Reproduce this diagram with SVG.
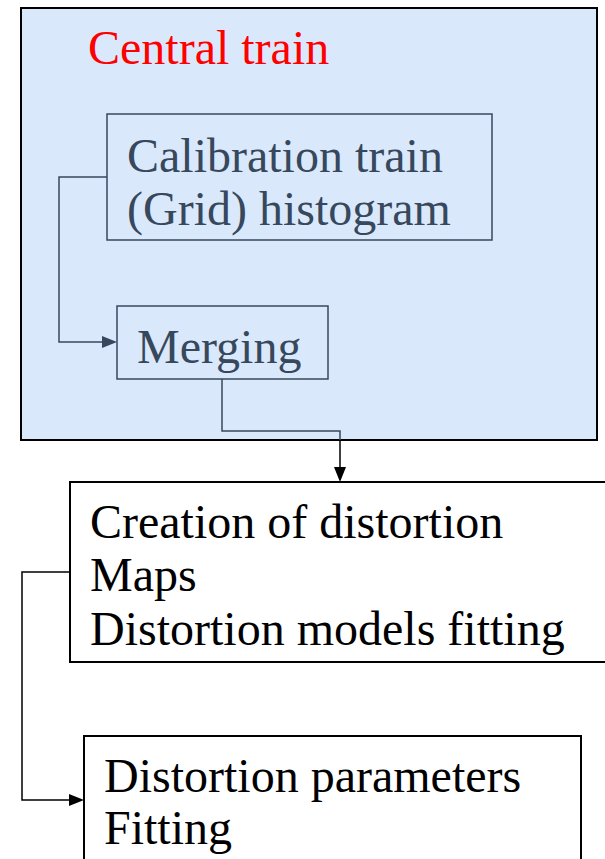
<svg xmlns="http://www.w3.org/2000/svg" width="605" height="859" viewBox="0 0 605 859">
  <style>
    text { font-family: 'Liberation Serif', 'Times New Roman', Tinos, serif; font-size: 48px; }
    .inner { fill: none; stroke: #37485c; stroke-width: 1.5; }
    .innerText { fill: #37485c; }
    .box { fill: #ffffff; stroke: #000000; stroke-width: 2; }
    .wire { fill: none; stroke-width: 1.5; }
  </style>

  <!-- container -->
  <g id="central-train">
    <rect x="21" y="8" width="576" height="432" fill="#dae8fc" stroke="#000000" stroke-width="2"/>
    <text x="88" y="64" fill="#ff0000" font-family="Liberation Serif, serif">Central train</text>
  </g>

  <g id="calibration">
    <rect class="inner" x="107" y="114" width="385" height="126"/>
    <text class="innerText" x="127" y="172" font-family="Liberation Serif, serif">Calibration train</text>
    <text class="innerText" x="127" y="225" font-family="Liberation Serif, serif">(Grid) histogram</text>
  </g>

  <g id="merging">
    <rect class="inner" x="117" y="306" width="211" height="73"/>
    <text class="innerText" x="137" y="363" font-family="Liberation Serif, serif">Merging</text>
  </g>

  <g id="creation">
    <rect class="box" x="70" y="482" width="545" height="180"/>
    <text x="90" y="538" font-family="Liberation Serif, serif">Creation of distortion</text>
    <text x="90" y="591" font-family="Liberation Serif, serif">Maps</text>
    <text x="90" y="645" font-family="Liberation Serif, serif">Distortion models fitting</text>
  </g>

  <g id="parameters">
    <rect class="box" x="84" y="736" width="497" height="140"/>
    <text x="104" y="792" font-family="Liberation Serif, serif">Distortion parameters</text>
    <text x="104" y="844" font-family="Liberation Serif, serif">Fitting</text>
  </g>

  <!-- connectors -->
  <g id="connectors">
    <path class="wire" d="M107,177 H59 V342 H103" stroke="#37485c"/>
    <path d="M102,336 L117,342 L102,348 Z" fill="#37485c"/>
    <path class="wire" d="M222,379 V431 H340 V440" stroke="#37485c"/>
    <path class="wire" d="M340,440 V468" stroke="#000000"/>
    <path d="M334,467 L346,467 L340,482 Z" fill="#000000"/>
    <path class="wire" d="M70,572 H22 V800 H70" stroke="#000000"/>
    <path d="M69,794 L84,800 L69,806 Z" fill="#000000"/>
  </g>
</svg>
